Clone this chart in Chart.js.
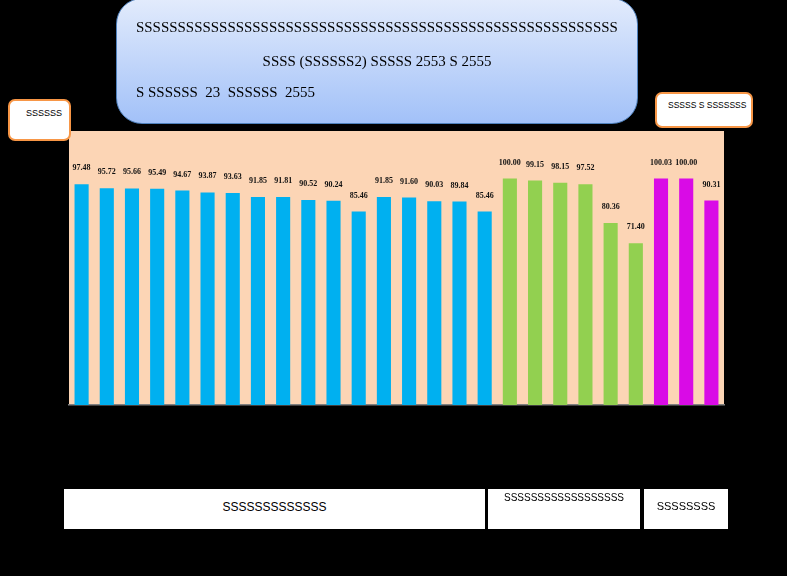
<!DOCTYPE html>
<html>
<head>
<meta charset="utf-8">
<script src="https://cdn.jsdelivr.net/npm/chart.js@4.4.1/dist/chart.umd.min.js"></script>
<style>
  html, body { margin:0; padding:0; background:#000; }
  #wrap { position:relative; width:787px; height:576px; background:#000; overflow:hidden; }
  canvas { position:absolute; left:0; top:0; }
  .title { position:absolute; left:116px; top:-2px; width:520px; height:124px; border:1px solid #4F81BD; border-radius:26px;
    background:linear-gradient(#E2EBFC, #A2C1F8); font-family:"Liberation Serif", serif; font-size:14.95px; color:#000; }
  .title div { position:absolute; white-space:pre; }
  .lbox { position:absolute; background:#fff; border:2px solid #F79646; border-radius:7px; font-family:"Liberation Sans", sans-serif; font-size:9px; color:#000; white-space:nowrap; }
  .bbox { position:absolute; background:#fff; font-family:"Liberation Sans", sans-serif; color:#000; text-align:center; white-space:nowrap; }
</style>
</head>
<body>
<div id="wrap">
  <canvas id="c" width="787" height="576"></canvas>
  <div class="title">
    <div style="left:19px; top:20px;">SSSSSSSSSSSSSSSSSSSSSSSSSSSSSSSSSSSSSSSSSSSSSSSSSSSSSSSSSS</div>
    <div style="left:0; width:520px; text-align:center; top:54px;">SSSS (SSSSSS2) SSSSS 2553 S 2555</div>
    <div style="left:19px; top:85px;">S SSSSSS  23  SSSSSS  2555</div>
  </div>
  <div class="lbox" style="left:8px; top:99px; width:59px; height:38px;"><div style="position:absolute; left:16px; top:7px;">SSSSSS</div></div>
  <div class="lbox" style="left:655px; top:92px; width:94px; height:32px;"><div style="position:absolute; left:11px; top:6px; font-size:8.5px;">SSSSS S SSSSSSS</div></div>
  <div class="bbox" style="left:64px; top:489px; width:421px; height:40px; font-size:12px; line-height:36px;">SSSSSSSSSSSSS</div>
  <div class="bbox" style="left:488px; top:489px; width:152px; height:40px; font-size:10px; line-height:18px;">SSSSSSSSSSSSSSSSSS</div>
  <div class="bbox" style="left:644px; top:489px; width:84px; height:40px; font-size:11px; line-height:34px;">SSSSSSSS</div>
</div>
<script>
const categories = ["1","2","3","4","5","6","7","8","9","10","11","12","13","14","15","16","17","18","19","20","21","22","23","24","25","26"];
const blueValues = [97.48, 95.72, 95.66, 95.49, 94.67, 93.87, 93.63, 91.85, 91.81, 90.52, 90.24, 85.46, 91.85, 91.60, 90.03, 89.84, 85.46];
const greenValues = [100.00, 99.15, 98.15, 97.52, 80.36, 71.40];
const magentaValues = [100.03, 100.00, 90.31];
const groupColors = ["#00B0F0", "#92D050", "#D90BE6"];

const values = [...blueValues, ...greenValues, ...magentaValues];
const colors = [
  ...blueValues.map(() => groupColors[0]),
  ...greenValues.map(() => groupColors[1]),
  ...magentaValues.map(() => groupColors[2])
];

const plotBg = {
  id: 'plotBg',
  beforeDraw(chart) {
    const {ctx, chartArea: a} = chart;
    ctx.save();
    ctx.fillStyle = '#FCD5B5';
    ctx.fillRect(a.left, a.top, a.right - a.left, a.bottom - a.top);
    ctx.restore();
  }
};
const valueLabels = {
  id: 'valueLabels',
  afterDatasetsDraw(chart) {
    const {ctx} = chart;
    const meta = chart.getDatasetMeta(0);
    ctx.save();
    ctx.font = 'bold 8px "Liberation Serif", serif';
    ctx.fillStyle = '#111';
    ctx.textAlign = 'center';
    ctx.textBaseline = 'middle';
    meta.data.forEach((bar, i) => {
      ctx.fillText(values[i].toFixed(2), bar.x, bar.y - 16);
    });
    ctx.restore();
  }
};

new Chart(document.getElementById('c'), {
  type: 'bar',
  data: {
    labels: categories,
    datasets: [{ data: values, backgroundColor: colors, borderWidth: 0, categoryPercentage: 1, barPercentage: 0.56 }]
  },
  options: {
    responsive: false,
    animation: false,
    layout: { padding: { left: 69, right: 63, top: 131, bottom: 163 } },
    plugins: { legend: { display: false }, tooltip: { enabled: false }, title: { display: false } },
    scales: {
      x: { grid: { display: false }, ticks: { display: false }, border: { color: '#808080', width: 1.5 } },
      y: { display: false, min: 0, max: 121 }
    }
  },
  plugins: [plotBg, valueLabels]
});
</script>
</body>
</html>
